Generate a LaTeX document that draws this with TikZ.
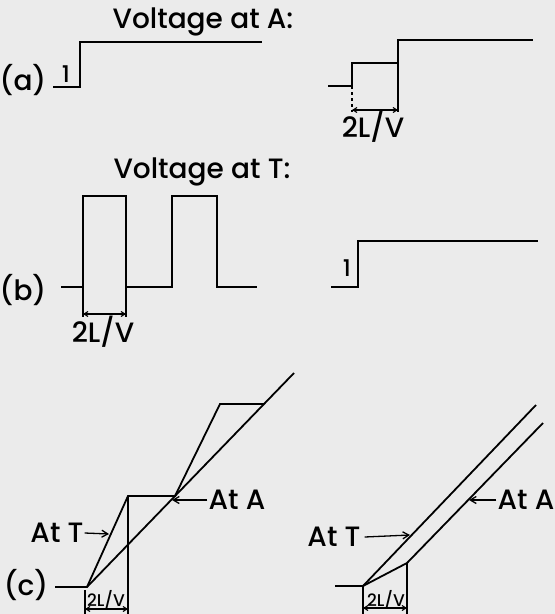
\documentclass[tikz,border=0pt]{standalone}
\usepackage{fontspec}
\setmainfont{Poppins Medium}
\usetikzlibrary{arrows.meta}

\tikzset{
  trace/.style={line width=1.8pt,line join=miter},
  extline/.style={line width=1.1pt},
  dimline/.style={line width=1.1pt,{Straight Barb[length=4pt,width=5pt]}-{Straight Barb[length=4pt,width=5pt]}},
  pointer/.style={line width=1.3pt,-{Straight Barb[length=6pt,width=7pt]}},
  lbl/.style={inner sep=0pt,font=\fontsize{28}{28}\selectfont},
  onelbl/.style={inner sep=0pt,font=\fontsize{23}{23}\selectfont},
  smalllbl/.style={inner sep=0pt,font=\fontsize{17}{17}\selectfont},
}

\begin{document}
\begin{tikzpicture}[x=1pt,y=-1pt]
  % Paper
  \fill[black!8] (0,0) rectangle (555,614);
  \useasboundingbox (0,0) rectangle (555,614);

  % Headings
  \node[lbl] (headA) at (203,22) {Voltage at A:};
  \node[lbl] (headT) at (202,172) {Voltage at T:};

  % Row labels
  \node[lbl] (rowa) at (23,80) {(a)};
  \node[lbl] (rowb) at (23,290) {(b)};
  \node[lbl] (rowc) at (26,585) {(c)};

  % (a) Voltage at A
  \draw[trace] (53,87) -- (80,87) -- (80,42) -- (262,42);
  \node[onelbl] (oneA) at (66,74) {1};
  \draw[trace] (328,86) -- (352,86) -- (352,63) -- (398,63) -- (398,40) -- (533,40);
  \draw[extline,dashed] (352,86) -- (352,112);
  \draw[extline] (398,63) -- (398,112);
  \coordinate (dimAl) at (352,110);
  \coordinate (dimAr) at (398,110);
  \draw[dimline] (dimAl) -- (dimAr);
  \node[lbl] (dimAlbl) at (373,127) {2L/V};

  % (b) Voltage at T
  \draw[trace] (61,287) -- (83,287) -- (83,196) -- (126,196) -- (126,287)
    -- (172,287) -- (172,196) -- (217,196) -- (217,287) -- (257,287);
  \draw[extline] (83,287) -- (83,317);
  \draw[extline] (126,287) -- (126,317);
  \coordinate (dimBl) at (83,314);
  \coordinate (dimBr) at (126,314);
  \draw[dimline] (dimBl) -- (dimBr);
  \node[lbl] (dimBlbl) at (103,332) {2L/V};
  \draw[trace] (331,287) -- (358,287) -- (358,241) -- (538,241);
  \node[onelbl] (oneB) at (347,268) {1};

  % (c) left: ramps
  \draw[trace] (55,587) -- (87,587) -- (294,373);
  \draw[trace] (87,587) -- (128,496) -- (175,496) -- (220,404) -- (264,404);
  \draw[extline] (85,590) -- (85,614);
  \draw[extline] (128,496) -- (128,614);
  \coordinate (dimCl) at (85,609);
  \coordinate (dimCr) at (128,609);
  \draw[dimline] (dimCl) -- (dimCr);
  \node[smalllbl] (dimClbl) at (106,600) {2L/V};
  \node[lbl] (atTl) at (57,533) {At T};
  \coordinate (tipTl) at (109,534);
  \draw[pointer] ([xshift=1pt]atTl.east) -- (tipTl);
  \node[lbl] (atAl) at (237,500) {At A};
  \coordinate (tipAl) at (172,500);
  \draw[pointer] ([xshift=-1pt]atAl.west) -- (tipAl);

  % (c) right: ramps
  \draw[trace] (335,586) -- (363,586) -- (536,405);
  \draw[trace] (363,586) -- (407,563) -- (543,423);
  \draw[extline] (363,586) -- (363,614);
  \draw[extline] (407,563) -- (407,614);
  \coordinate (dimDl) at (363,608);
  \coordinate (dimDr) at (407,608);
  \draw[dimline] (dimDl) -- (dimDr);
  \node[smalllbl] (dimDlbl) at (386,600) {2L/V};
  \node[lbl] (atTr) at (334,537) {At T};
  \coordinate (tipTr) at (410,535);
  \draw[pointer] ([xshift=4pt]atTr.east) -- (tipTr);
  \node[lbl] (atAr) at (526,500) {At A};
  \coordinate (tipAr) at (469,500);
  \draw[pointer] ([xshift=-1pt]atAr.west) -- (tipAr);
\end{tikzpicture}
\end{document}
